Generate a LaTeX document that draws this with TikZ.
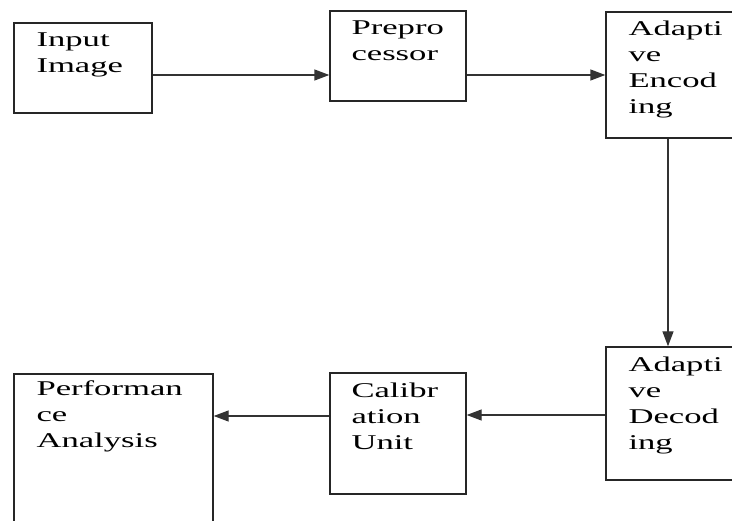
\documentclass[tikz,border=0pt]{standalone}
\usepackage{fontspec}
\setmainfont{Liberation Serif}[FakeStretch=1.65]
\usetikzlibrary{arrows.meta,calc}
\begin{document}
\begin{tikzpicture}[x=1pt,y=-1pt,
 box/.style={draw=black!85,line width=1.4pt,inner sep=0pt},
 lbl/.style={anchor=base west,inner sep=0pt,align=left,font=\fontsize{21}{26}\selectfont},
 arr/.style={draw=black!80,line width=1.4pt,-{Triangle[length=15pt,width=11pt]}}]
\useasboundingbox (0,0) rectangle (732,521);
\clip (0,0) rectangle (732,521);
\node[box,minimum width=138pt,minimum height=90pt] (in) at (83,68) {};
\node[box,minimum width=136pt,minimum height=90pt] (pre) at (398,56) {};
\node[box,minimum width=128pt,minimum height=126pt] (enc) at (670,75) {};
\node[box,minimum width=128pt,minimum height=133pt] (dec) at (670,413.5) {};
\node[box,minimum width=136pt,minimum height=121pt] (cal) at (398,433.5) {};
\node[box,minimum width=199pt,minimum height=156pt] (perf) at (113.5,452) {};
\node[lbl] (tin) at ($(in.north west)+(23,50)$) {Input\\Image};
\node[lbl] (tpre) at ($(pre.north west)+(22,50)$) {Prepro\\cessor};
\node[lbl] (tenc) at ($(enc.north west)+(23,102)$) {Adapti\\ve\\Encod\\ing};
\node[lbl] (tdec) at ($(dec.north west)+(23,103)$) {Adapti\\ve\\Decod\\ing};
\node[lbl] (tcal) at ($(cal.north west)+(22,77)$) {Calibr\\ation\\Unit};
\node[lbl] (tperf) at ($(perf.north west)+(23,74)$) {Performan\\ce\\Analysis};
\draw[arr] (in.east |- 0,75) -- (pre.west |- 0,75);
\draw[arr] (pre.east |- 0,75) -- (enc.west |- 0,75);
\draw[arr] ([xshift=-2pt]enc.south) -- ([xshift=-2pt]dec.north);
\draw[arr] (dec.west |- 0,415) -- (cal.east |- 0,415);
\draw[arr] (cal.west |- 0,416) -- (perf.east |- 0,416);
\end{tikzpicture}
\end{document}
